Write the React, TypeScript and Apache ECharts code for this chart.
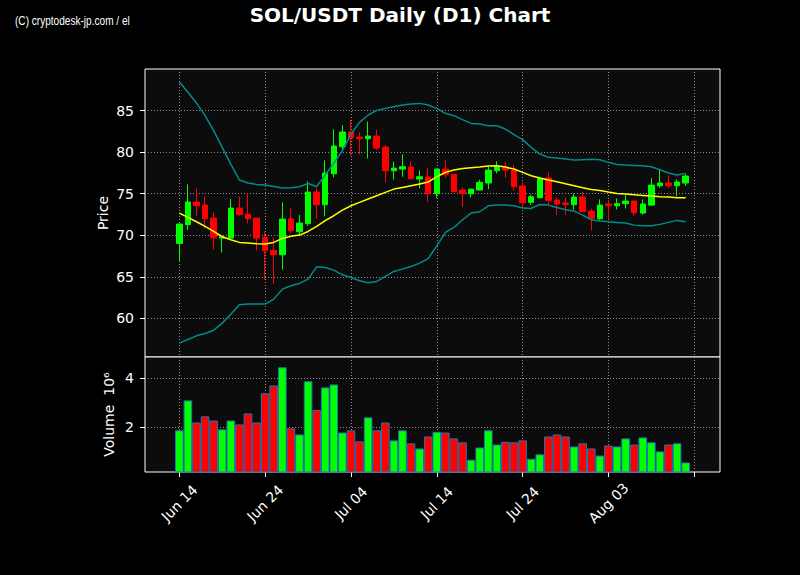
import React, { useEffect, useRef } from "react";
import * as echarts from "echarts";

// ---- data ----
const openP = [69.02, 71.27, 74.0, 73.63, 72.07, 69.66, 69.66, 73.27, 72.55, 72.07,
  69.74, 68.17, 67.65, 71.95, 70.42, 71.39, 75.2, 73.67, 77.41, 80.66,
  82.43, 81.83, 81.63, 81.95, 80.62, 77.77, 77.97, 78.21, 76.77, 77.01,
  75.0, 77.97, 77.33, 75.44, 75.0, 75.44, 76.29, 77.77, 78.17, 77.85,
  75.92, 73.96, 74.52, 76.89, 74.24, 73.88, 73.68, 74.6, 72.91, 71.99,
  73.76, 73.55, 73.8, 74.12, 72.67, 73.63, 75.96, 76.29, 75.96, 76.29];
const closeP = [71.35, 74.0, 73.55, 71.99, 69.7, 69.82, 73.27, 72.47, 71.99, 69.66,
  68.13, 67.65, 71.95, 70.54, 71.47, 75.2, 73.67, 77.49, 80.74, 82.43,
  81.71, 81.63, 81.95, 80.5, 77.77, 78.09, 78.25, 76.81, 77.05, 75.0,
  77.97, 77.33, 75.24, 75.04, 75.56, 76.37, 77.85, 78.25, 77.85, 75.84,
  73.92, 74.64, 76.85, 74.2, 73.76, 73.72, 74.6, 72.84, 72.03, 73.63,
  73.55, 73.8, 74.12, 72.71, 73.76, 76.04, 76.29, 75.96, 76.41, 77.13];
const highP = [71.4, 76.12, 75.64, 74.68, 72.75, 69.94, 74.36, 74.68, 75.08, 72.07,
  70.46, 69.74, 73.96, 73.27, 72.43, 76.49, 75.76, 79.02, 82.75, 83.27,
  83.92, 82.43, 83.67, 82.7, 80.82, 78.86, 79.74, 78.9, 77.81, 78.13,
  77.97, 79.06, 77.33, 75.76, 75.56, 76.69, 78.25, 78.9, 78.86, 78.49,
  76.45, 74.88, 77.05, 77.57, 74.56, 74.56, 75.0, 75.24, 73.23, 74.32,
  74.24, 74.44, 74.84, 74.12, 74.32, 76.89, 77.89, 77.21, 76.73, 77.33];
const lowP = [66.93, 70.66, 72.31, 70.82, 68.29, 67.93, 69.66, 72.35, 71.43, 68.21,
  64.64, 64.12, 65.88, 70.26, 69.94, 71.14, 71.95, 72.27, 76.97, 80.38,
  79.58, 79.74, 79.26, 80.3, 76.37, 76.69, 77.05, 76.81, 75.64, 74.04,
  74.44, 76.93, 75.16, 73.39, 74.56, 75.44, 75.56, 77.45, 76.93, 75.36,
  73.35, 73.63, 74.44, 73.63, 72.43, 72.43, 73.11, 72.8, 70.58, 71.79,
  71.99, 73.11, 73.23, 72.35, 72.51, 73.55, 75.72, 75.68, 74.72, 75.96];
// volume in millions
const volumeM = [1.88, 3.1, 2.2, 2.45, 2.28, 1.92, 2.28, 2.12, 2.57, 2.2,
  3.39, 3.71, 4.45, 1.96, 1.71, 3.88, 2.71, 3.63, 3.75, 1.79,
  1.88, 1.43, 2.41, 1.88, 2.2, 1.47, 1.88, 1.35, 1.14, 1.63,
  1.82, 1.79, 1.55, 1.39, 0.68, 1.18, 1.88, 1.3, 1.41, 1.39,
  1.47, 0.72, 0.9, 1.63, 1.71, 1.63, 1.22, 1.35, 1.14, 0.85,
  1.26, 1.22, 1.55, 1.3, 1.59, 1.39, 1.02, 1.3, 1.35, 0.57];
// Bollinger bands (20, 2) and middle line
const bbUpper = [88.49, 87.21, 85.92, 84.4, 82.59, 80.58, 78.57, 76.65, 76.29, 76.12,
  76.04, 75.88, 75.68, 75.72, 75.84, 76.24, 75.88, 77.25, 78.69, 80.18,
  82.19, 83.59, 84.48, 85.04, 85.28, 85.48, 85.68, 85.8, 85.88, 85.68,
  85.28, 84.68, 84.4, 83.92, 83.47, 83.39, 83.19, 83.19, 82.79, 82.11,
  81.51, 80.58, 79.78, 79.38, 79.3, 79.18, 79.06, 79.1, 79.14, 79.1,
  78.78, 78.53, 78.45, 78.41, 78.37, 78.25, 77.89, 77.49, 77.25, 77.45];
const bbMiddle = [72.67, 72.15, 71.63, 71.06, 70.46, 69.82, 69.46, 69.14, 69.06, 68.98,
  68.94, 69.14, 69.62, 69.88, 70.02, 70.46, 71.06, 71.75, 72.35, 73.03,
  73.55, 73.96, 74.36, 74.76, 75.16, 75.56, 75.76, 75.96, 76.16, 76.41,
  77.05, 77.57, 77.85, 78.05, 78.13, 78.21, 78.33, 78.37, 78.21, 77.97,
  77.57, 77.17, 76.89, 76.65, 76.45, 76.2, 75.96, 75.72, 75.52, 75.4,
  75.2, 75.04, 74.96, 74.88, 74.8, 74.72, 74.64, 74.6, 74.52, 74.52];
const bbLower = [57.01, 57.45, 57.89, 58.17, 58.57, 59.42, 60.5, 61.63, 61.71, 61.71,
  61.71, 62.31, 63.51, 63.92, 64.2, 64.72, 66.2, 66.12, 65.8, 65.24,
  64.92, 64.52, 64.28, 64.44, 65.04, 65.64, 65.92, 66.24, 66.65, 67.19,
  68.73, 70.34, 70.94, 71.87, 72.67, 72.83, 73.55, 73.63, 73.63, 73.55,
  73.27, 73.23, 73.71, 73.63, 73.35, 73.07, 72.91, 72.43, 71.87, 71.71,
  71.63, 71.55, 71.47, 71.22, 71.14, 71.14, 71.31, 71.55, 71.79, 71.63];

const priceTicks = [60, 65, 70, 75, 80, 85];
const volumeTicks = [2, 4];
const tickLabels = ["Jun 14", "Jun 24", "Jul 04", "Jul 14", "Jul 24", "Aug 03"];
const TICK_STEP = 10; // days between x ticks

// calendar: first candle is Jun 14; axis spans 4 days before to 4 days after
const LEAD = 4;
const TRAIL = 4;
const MONTHS = ["Jan", "Feb", "Mar", "Apr", "May", "Jun", "Jul", "Aug", "Sep", "Oct", "Nov", "Dec"];
const START = Date.UTC(2024, 5, 14);
const N = openP.length;
const categories = Array.from({ length: LEAD + N + TRAIL }, (_, k) => {
  const d = new Date(START + (k - LEAD) * 86400000);
  return `${MONTHS[d.getUTCMonth()]} ${String(d.getUTCDate()).padStart(2, "0")}`;
});

const GREEN = "#00ff00";
const RED = "#ff0000";
const BAND = "#008b8b";
const FONT = "DejaVu Sans";

export default function App() {
  const ref = useRef<HTMLDivElement>(null);
  useEffect(() => {
    if (!ref.current) return;
    const chart = echarts.init(ref.current, undefined, { renderer: "svg" });
    const isTick = (index: number) => index >= LEAD && (index - LEAD) % TICK_STEP === 0;

    const candleData = openP.map((o, i) => [i + LEAD, o, closeP[i], lowP[i], highP[i]]);
    const volData = volumeM.map((v, i) => ({
      value: [i + LEAD, v],
      itemStyle: { color: closeP[i] >= openP[i] ? GREEN : RED },
    }));
    const line = (arr: number[]) => arr.map((v, i) => [i + LEAD, v]);

    const gridLine = { show: true, lineStyle: { color: "#8c8c8c", type: [1, 2] as any, width: 1 } };

    chart.setOption({
      animation: false,
      backgroundColor: "#000000",
      title: {
        text: "SOL/USDT Daily (D1) Chart",
        left: "center",
        top: 0,
        textStyle: { color: "#ffffff", fontSize: 20, fontWeight: "bold", fontFamily: FONT },
      },
      graphic: [
        {
          type: "text",
          left: 15,
          top: 15,
          scaleX: 0.84,
          style: {
            text: "(C) cryptodesk-jp.com / el",
            fill: "#ffffff",
            font: "12px 'Liberation Sans', sans-serif",
          },
        },
      ],
      grid: [
        { left: 145, top: 69, width: 575, height: 288, show: true, backgroundColor: "#0c0c0c", borderColor: "#ffffff", borderWidth: 1 },
        { left: 145, top: 357, width: 575, height: 115, show: true, backgroundColor: "#0c0c0c", borderColor: "#ffffff", borderWidth: 1 },
      ],
      xAxis: [
        {
          type: "category",
          gridIndex: 0,
          data: categories,
          boundaryGap: false,
          axisLine: { show: false },
          axisTick: { show: false },
          axisLabel: { show: false },
          splitLine: { ...gridLine, interval: (i: number) => isTick(i) },
        },
        {
          type: "category",
          gridIndex: 1,
          data: categories,
          boundaryGap: false,
          axisLine: { show: false },
          axisTick: { show: true, interval: (i: number) => isTick(i), length: 5, lineStyle: { color: "#ffffff", width: 1 } },
          axisLabel: {
            interval: (i: number) => isTick(i),
            rotate: 45,
            align: "center",
            verticalAlign: "middle",
            margin: 31,
            color: "#ffffff",
            fontSize: 14,
            fontFamily: FONT,
            formatter: (v: string) => (tickLabels.includes(v) ? v : ""),
          },
          splitLine: { ...gridLine, interval: (i: number) => isTick(i) },
        },
      ],
      yAxis: [
        {
          type: "value",
          gridIndex: 0,
          min: 55.34,
          max: 90.02,
          name: "Price",
          nameLocation: "middle",
          nameGap: 35,
          nameMoveOverlap: false,
          nameRotate: 90,
          nameTextStyle: { color: "#ffffff", fontSize: 14, fontFamily: FONT },
          axisLine: { show: false },
          axisTick: { show: true, length: 5, customValues: priceTicks, lineStyle: { color: "#ffffff" } },
          axisLabel: { color: "#ffffff", fontSize: 14, fontFamily: FONT, margin: 11, customValues: priceTicks },
          splitLine: gridLine,
        },
        {
          type: "value",
          gridIndex: 1,
          min: 0.18,
          max: 4.87,
          name: "Volume  10⁶",
          nameLocation: "middle",
          nameGap: 29,
          nameMoveOverlap: false,
          nameRotate: 90,
          nameTextStyle: { color: "#ffffff", fontSize: 14, fontFamily: FONT },
          axisLine: { show: false },
          axisTick: { show: true, length: 5, customValues: volumeTicks, lineStyle: { color: "#ffffff" } },
          axisLabel: { color: "#ffffff", fontSize: 14, fontFamily: FONT, margin: 11, customValues: volumeTicks },
          splitLine: gridLine,
        },
      ],
      series: [
        {
          type: "candlestick",
          xAxisIndex: 0,
          yAxisIndex: 0,
          barWidth: 6,
          encode: { x: 0, y: [1, 2, 3, 4] },
          data: candleData,
          itemStyle: { color: GREEN, color0: RED, borderColor: GREEN, borderColor0: RED, borderWidth: 1 },
          z: 2,
        },
        { type: "line", xAxisIndex: 0, yAxisIndex: 0, data: line(bbUpper), showSymbol: false, lineStyle: { color: BAND, width: 1.5 }, z: 3 },
        { type: "line", xAxisIndex: 0, yAxisIndex: 0, data: line(bbLower), showSymbol: false, lineStyle: { color: BAND, width: 1.5 }, z: 3 },
        { type: "line", xAxisIndex: 0, yAxisIndex: 0, data: line(bbMiddle), showSymbol: false, lineStyle: { color: "#ffff00", width: 1.5 }, z: 3 },
        {
          type: "bar",
          xAxisIndex: 1,
          yAxisIndex: 1,
          barWidth: 8.6,
          data: volData,
          itemStyle: { borderColor: "#1f77b4", borderWidth: 1 },
        },
      ],
    });
    return () => chart.dispose();
  }, []);
  return (
    <div style={{ position: "absolute", left: 0, top: 0, width: 800, height: 575, background: "#000" }}>
      <div ref={ref} style={{ width: 800, height: 575 }} />
    </div>
  );
}
